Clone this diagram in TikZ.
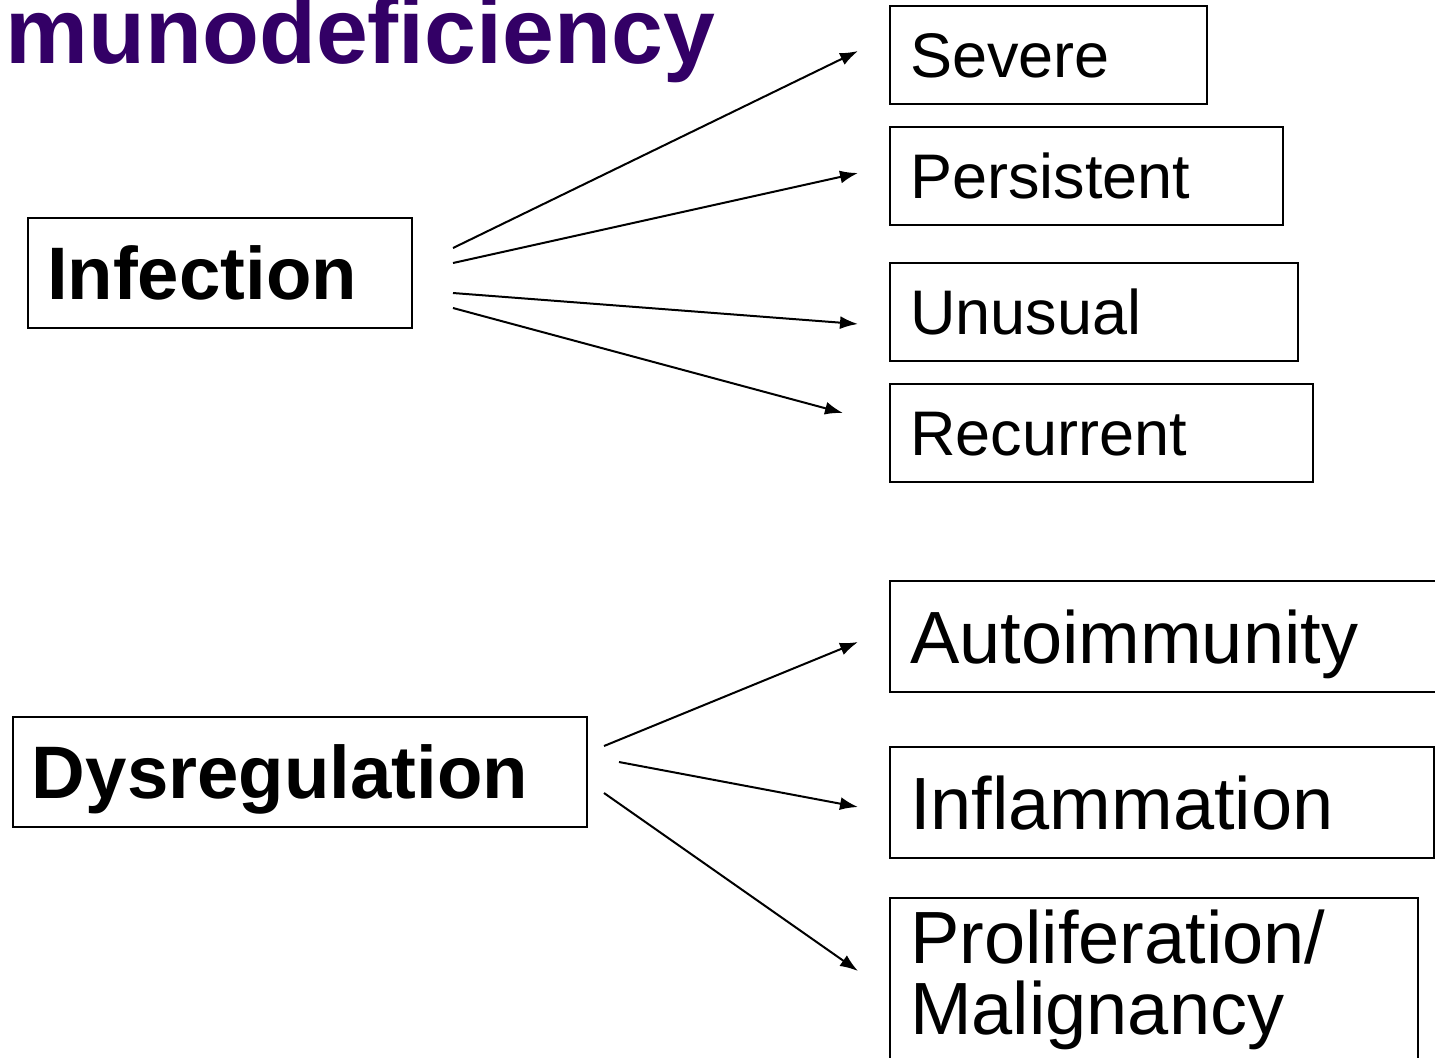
\documentclass[tikz,border=0pt]{standalone}
\usepackage{fontspec}
\setmainfont{Liberation Sans}
\usepackage{xcolor}
\usepackage{tikz}
\usetikzlibrary{calc, arrows.meta}
\definecolor{titlepurple}{HTML}{330066}

\begin{document}
\begin{tikzpicture}[x=0.5pt, y=-0.5pt,
                cause/.style={rectangle, draw, line width=1pt, anchor=north west, inner ysep=0pt, inner xsep=9.5pt,
                    align=left, minimum height=55pt, text height=26.5pt, text depth=0pt,
                    font=\bfseries\fontsize{37.2}{40}\selectfont},
                symptom/.style={rectangle, draw, line width=1pt, anchor=north west, inner ysep=0pt, inner xsep=10pt,
                    align=left, minimum height=49pt, text height=22.6pt, text depth=0pt,
                    font=\fontsize{31.5}{34}\selectfont},
                bigsymptom/.style={symptom, minimum height=55.5pt, text height=26.5pt,
                    font=\fontsize{37}{35.5}\selectfont},
                paths/.style={line width=1pt, -{Latex[length=9pt,width=6.5pt]}}
            ]
                \useasboundingbox (0,0) rectangle (1435,1057);
                \clip (0,0) rectangle (1435,1057);
                \fill[white] (0,0) rectangle (1435,1057);

                % Title
                \node[anchor=base west, inner sep=0pt, text=titlepurple,
                    font=\bfseries\fontsize{46.6}{50}\selectfont] (title) at (5,63) {munodeficiency};

                % Nodes: Infection
                \node[cause, text width=173pt] (inf) at (27,217) {Infection};
                \node[symptom, text width=138.5pt] (sev) at (889,5) {Severe};
                \node[symptom, text width=176.5pt] (per) at (889,126) {Persistent};
                \node[symptom, text width=184pt] (unu) at (889,262) {Unusual};
                \node[symptom, text width=191.5pt] (rec) at (889,383) {Recurrent};

                % Nodes: Dysregulation
                \node[cause, text width=268pt] (dys) at (12,716) {Dysregulation};
                \node[bigsymptom, text width=260pt] (aut) at (889,580) {Autoimmunity};
                \node[bigsymptom, text width=252pt] (infl) at (889,746) {Inflammation};
                \node[bigsymptom, text width=244pt, minimum height=0pt, text height=32.5pt, text depth=80pt]
                    (pro) at (889,897) {Proliferation/\\Malignancy};

                % Paths: Infection
                \draw[paths] ($(inf.east)+(40,-25)$) -- ($(sev.west)+(-31,-4)$);
                \draw[paths] ($(inf.east)+(40,-10)$) -- ($(per.west)+(-31,-3)$);
                \draw[paths] ($(inf.east)+(40,20)$) -- ($(unu.west)+(-31,12)$);
                \draw[paths] ($(inf.east)+(40,35)$) -- ($(rec.west)+(-46,-20)$);

                % Paths: Dysregulation
                \draw[paths] ($(dys.east)+(16,-26)$) -- ($(aut.west)+(-31,5.5)$);
                \draw[paths] ($(dys.east)+(31,-10)$) -- ($(infl.west)+(-31,4.5)$);
                \draw[paths] ($(dys.east)+(16,21)$) -- ($(pro.north west)+(-31,74)$);
            \end{tikzpicture}
\end{document}
